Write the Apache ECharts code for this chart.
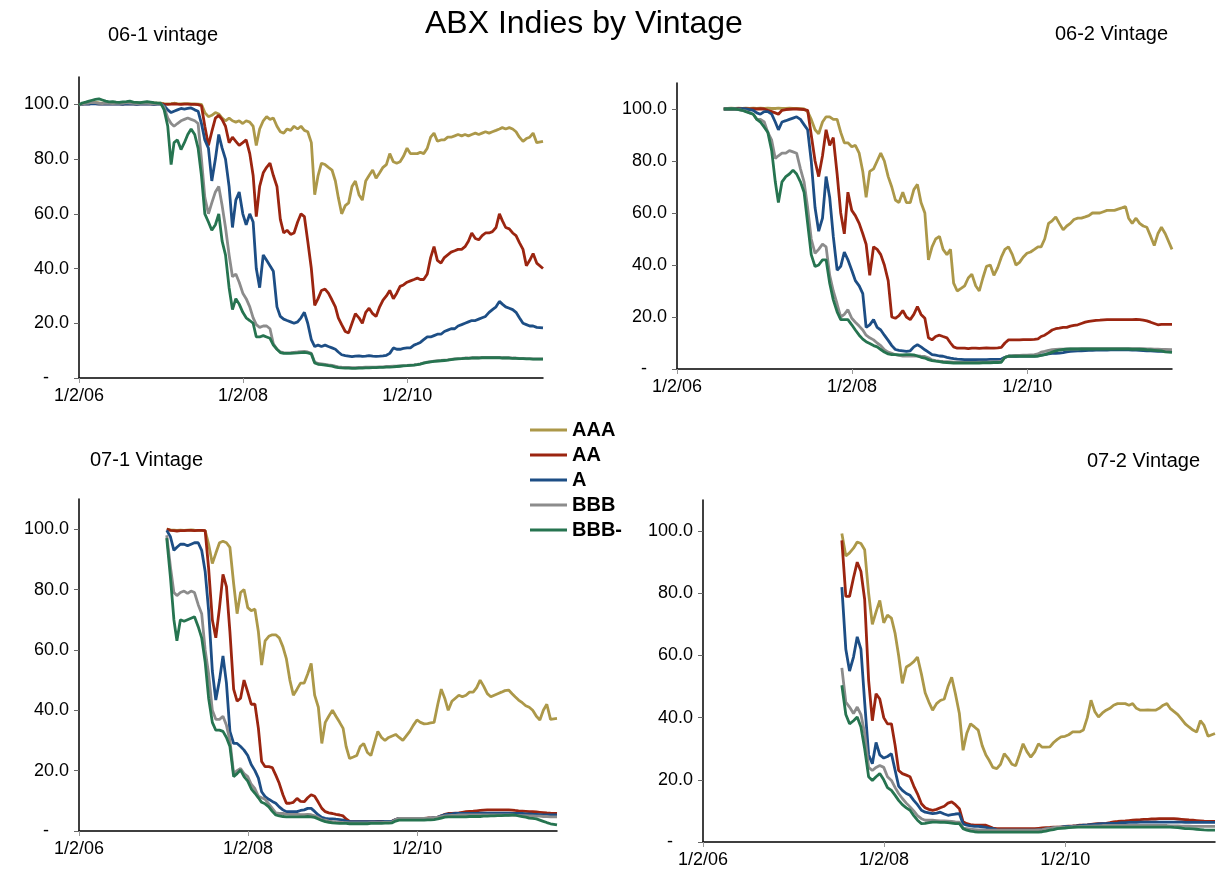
<!DOCTYPE html>
<html>
<head>
<meta charset="utf-8">
<title>ABX Indies by Vintage</title>
<script src="https://cdn.jsdelivr.net/npm/echarts@6.0.0/dist/echarts.min.js"></script>
<style>
  html, body { margin: 0; padding: 0; background: #fff; }
  #main { width: 1222px; height: 875px; }
</style>
</head>
<body>
<div id="main"></div>
<script>
// half-month observation dates shared by every panel
var dates = [
  '2006-01-02','2006-01-16','2006-02-01','2006-02-16','2006-03-01','2006-03-16','2006-04-01','2006-04-16','2006-05-01','2006-05-16','2006-06-01','2006-06-16',
  '2006-07-01','2006-07-16','2006-08-01','2006-08-16','2006-09-01','2006-09-16','2006-10-01','2006-10-16','2006-11-01','2006-11-16','2006-12-01','2006-12-16',
  '2007-01-01','2007-01-16','2007-02-01','2007-02-16','2007-03-01','2007-03-16','2007-04-01','2007-04-16','2007-05-01','2007-05-16','2007-06-01','2007-06-16',
  '2007-07-01','2007-07-16','2007-08-01','2007-08-16','2007-09-01','2007-09-16','2007-10-01','2007-10-16','2007-11-01','2007-11-16','2007-12-01','2007-12-16',
  '2008-01-01','2008-01-16','2008-02-01','2008-02-16','2008-03-01','2008-03-16','2008-04-01','2008-04-16','2008-05-01','2008-05-16','2008-06-01','2008-06-16',
  '2008-07-01','2008-07-16','2008-08-01','2008-08-16','2008-09-01','2008-09-16','2008-10-01','2008-10-16','2008-11-01','2008-11-16','2008-12-01','2008-12-16',
  '2009-01-01','2009-01-16','2009-02-01','2009-02-16','2009-03-01','2009-03-16','2009-04-01','2009-04-16','2009-05-01','2009-05-16','2009-06-01','2009-06-16',
  '2009-07-01','2009-07-16','2009-08-01','2009-08-16','2009-09-01','2009-09-16','2009-10-01','2009-10-16','2009-11-01','2009-11-16','2009-12-01','2009-12-16',
  '2010-01-01','2010-01-16','2010-02-01','2010-02-16','2010-03-01','2010-03-16','2010-04-01','2010-04-16','2010-05-01','2010-05-16','2010-06-01','2010-06-16',
  '2010-07-01','2010-07-16','2010-08-01','2010-08-16','2010-09-01','2010-09-16','2010-10-01','2010-10-16','2010-11-01','2010-11-16','2010-12-01','2010-12-16',
  '2011-01-01','2011-01-16','2011-02-01','2011-02-16','2011-03-01','2011-03-16','2011-04-01','2011-04-16','2011-05-01','2011-05-16','2011-06-01','2011-06-16',
  '2011-07-01','2011-07-16','2011-08-01','2011-08-29'
];

var ratings  = ['AAA', 'AA', 'A', 'BBB', 'BBB-'];
var vintages = ['06-1 vintage', '06-2 Vintage', '07-1 Vintage', '07-2 Vintage'];
var xTickDates = ['2006-01-02', '2008-01-02', '2010-01-02'];
var yTicks = [0, 20, 40, 60, 80, 100];

// ---- 06-1 ----
var v061_AAA = [
  99.8,100.2,100.5,100.6,100.8,100.7,100.5,100.4,100.6,100.5,100.4,100.5,100.6,100.5,100.7,100.6,100.5,100.4,100.5,100.6,100.5,100.4,100.5,100.4,
  100.4,100.3,100.2,100.3,100.4,100.3,100.2,100.3,100.3,100.2,100.2,100.1,100,97,95.5,96,97,96.5,95,94,95,94,93.5,94,
  93,94,93.5,92,85,91,94,95.5,94.5,95,92,90,89.5,91,90.5,92,91,92,90.5,90,86,67,74,78.5,
  78,77,76,72,66,60,63,64,70,72,67,65,72,74,76,73,75,77,78,82,79,78.5,79,81,
  84,82,82,82,82.5,82,84,88,89.5,86.5,87,87,88,88,88.5,89,88.5,89,88.5,89,89.5,89,89.5,90,
  89.5,90,90.5,91,91.5,91,91.5,91,90,88,86.5,87.5,88,89.5,86,86.5
];
var v061_AA = [
  99.8,100.1,100.3,100.2,100.4,100.3,100.2,100.2,100.3,100.2,100.2,100.3,100.2,100.1,100.3,100.2,100.2,100.1,100.2,100.3,100.2,100.2,100.1,100.2,
  100.2,100.1,100,100.1,100.2,100.1,100,100.1,100.1,100,100,99.9,99.5,92,85,90,95,96,94.4,92,86,88,86.5,85,
  86,87,82,74,59,70,75,77,78.5,74,70,58,53,54,52.5,53,57,60,59,50,40,26.5,29,32,
  32.5,31,28.5,26,22,19.5,17,16.5,20,23.5,22,20,24,25.5,23.5,22.5,26,28.5,30,32,29,31,33.5,34,
  35,35.5,36,36.5,36,36,38,44,48,43,42,44,45,46,46.5,47,47,48,50,53,51,50.5,52,53,
  53,53.5,55,60,57.5,55,54.5,53,52,49.5,47,41,43,45.5,42,40
];
var v061_A = [
  99.8,100,100.2,100.1,100.3,100.2,100.1,100.1,100.2,100.1,100.1,100.2,100.1,100,100.2,100.1,100.1,100,100.1,100.2,100.1,100.1,100,100.1,
  100.1,99.5,98,97,97.5,98,98.5,98.3,98.5,98.7,98,97.5,93,87,84,72,80,89,84,80,70,55,65,68,
  60,56,60,57,40,33,45,43,41,39,26,22.5,21.5,21,20.5,20,20.5,22,24,20,14,11.5,12,11.5,
  12,11.5,11,10.5,9.5,8.5,8.2,8,7.8,8,8.1,7.9,8,8.2,8,7.9,8,8.1,8.3,9,11,10.5,10.5,10.8,
  11,11,12,12.5,13,14,15,15,15.5,16,16,17,17.5,18,18,19,19.5,20,20.5,21,21,21.5,22,22.5,
  24,25,26,28,27,26,25.5,25,24,22,20,19.5,19,19,18.5,18.3
];
var v061_BBB = [
  99.8,100.1,100.4,100.5,100.7,100.6,100.4,100.3,100.5,100.4,100.3,100.4,100.5,100.4,100.6,100.5,100.4,100.3,100.4,100.5,100.4,100.3,100.4,100.3,
  100.2,99,95,93,92,93,94,94.5,95,94.5,94,93,80,66,60,64,68,70,63,55,45,37,38,35,
  31,29,26,22,19.5,18.5,19,19,18,12.5,10.5,9.5,9.3,9.2,9.3,9.4,9.5,9.6,9.7,9.5,9,5.8,5.3,5.2,
  5,4.8,4.6,4.3,4.1,4,3.9,3.9,3.8,3.8,3.9,3.9,4,4,4,4,4.1,4.1,4.2,4.2,4.3,4.3,4.4,4.5,
  4.6,4.7,4.8,5,5.2,5.5,5.8,6,6.2,6.3,6.4,6.5,6.6,6.8,7,7.1,7.2,7.3,7.3,7.4,7.4,7.4,7.5,7.5,
  7.5,7.5,7.5,7.5,7.4,7.4,7.4,7.3,7.3,7.2,7.2,7.1,7.1,7,7,7
];
var v061_BBBm = [
  99.8,100.5,100.8,101.2,101.5,101.8,102,101.6,101.2,100.9,101,100.8,100.7,100.9,101,101.2,100.8,100.7,100.6,100.8,101,100.8,100.6,100.5,
  100.4,98,92,78,86,87,83.5,86,89,91,89,84,74,60,57,54,56,60,50,45,33,25,29,27,
  24,22,21,20,15,15,15.5,15,14.5,12,10.5,9.3,9,9,9,9.1,9.2,9.3,9.4,9.2,8.8,5.5,5,4.9,
  4.7,4.5,4.3,4,3.8,3.7,3.6,3.6,3.5,3.5,3.6,3.6,3.7,3.7,3.8,3.8,3.9,3.9,4,4,4.1,4.2,4.3,4.4,
  4.5,4.6,4.7,4.9,5.1,5.4,5.7,5.9,6.1,6.2,6.3,6.4,6.5,6.7,6.9,7,7.1,7.2,7.2,7.3,7.3,7.3,7.4,7.4,
  7.4,7.4,7.4,7.4,7.3,7.3,7.3,7.2,7.2,7.1,7.1,7,7,6.9,6.9,6.9
];

// ---- 06-2 ----
var v062_AAA = [
  null,null,null,null,null,null,null,null,null,null,null,null,null,100,100.2,100.3,100.2,100.3,100.2,100.3,100.2,100.3,100.2,100.3,
  100.2,100.3,100.2,100.2,100.3,100.2,100.2,100.3,100.2,100.2,100.1,100,99,96,92,90.5,95,97,97,96,96,91,87,87,
  85.5,86,83,76,66,76,77,80,83,80,74,70,65,64,68,64,64,69,71,64,60,42,47,50,
  51,46,44,46,33,30,31,32,35,36.5,32,30,35,39.5,40,36,39,43,46,47,44,40,41,43,
  44.5,45,46,47,47,50,56,57,58.5,56,53.5,55,56,57.5,58,58,58.5,59,60,60,60,60.5,61,61,
  61,61.5,62,62.5,58,56,58,56,55,54.5,51,47.5,52,54.5,52,46
];
var v062_AA = [
  null,null,null,null,null,null,null,null,null,null,null,null,null,100,100,100.1,100,100.1,100,100.1,100,100.1,100,100.1,
  100,99.5,99,98.5,98,99.5,99.8,99.9,100,100,99.9,99.8,99.5,90,80,74,82,92,86,89,75,60,52,68,
  61,59,56,52,48,36,47,46,44,40,34,20,19.5,20.5,22.5,20,19,21,24,21,19.5,12,11.2,12.5,
  13,12.5,12,10,8.5,8,8,8,7.8,8,8,7.9,8,8.1,8,8,8.1,8.3,10,11.2,11.2,11.2,11.2,11.3,
  11.3,11.3,11.4,11.6,12.5,13,14,15,15.5,15.7,16,16,16.5,16.8,17,17.5,18,18.3,18.5,18.7,18.8,18.9,19,19,
  19,19,19,19,19,19,19.1,19,18.8,18.5,18,17.5,17,17.2,17.2,17.2
];
var v062_A = [
  null,null,null,null,null,null,null,null,null,null,null,null,null,100,100,100.1,100,100,100.1,100,99.8,99.5,98.5,98,
  99,99,98,95,92,95,95.5,96,96.5,97,96,94,92,80,62,53,58,74,66,51,38,39.5,45,42,
  38,34,32,29,16,17,19,16,15,13,11,9,7.5,7.2,7,6.8,7,8.5,9.3,8.5,7.4,6.5,5.5,5.3,
  5,4.9,4.5,4.2,4,3.8,3.7,3.6,3.6,3.6,3.6,3.6,3.6,3.6,3.7,3.7,3.7,3.8,4.5,4.9,4.9,4.9,5,5,
  5,5,5,5.1,5.3,5.5,5.8,6,6,6.1,6.3,6.6,6.8,6.9,7,7,7.1,7.2,7.2,7.3,7.3,7.3,7.3,7.4,
  7.4,7.4,7.4,7.4,7.4,7.3,7.3,7.2,7.1,7,7,6.9,6.8,6.8,6.8,6.8
];
var v062_BBB = [
  null,null,null,null,null,null,null,null,null,null,null,null,null,100,100,100.1,100,99.8,99.5,99.2,98.5,98,96,96,
  95,91,88,81,82,83,83,84,83.5,83,77,72,62,50,44.5,46,48,47,36,30,25,20,21,22.8,
  19.5,18,16.5,15,13,12,11.2,10,9,7.4,6.5,6,5.5,5.2,5,5,5,5,5,4.9,4.8,4.3,3.5,3.2,
  3,2.9,2.8,2.7,2.6,2.6,2.5,2.5,2.5,2.5,2.5,2.6,2.6,2.6,2.7,2.7,2.8,2.9,4.5,5,5.1,5.2,5.2,5.3,
  5.3,5.4,5.5,5.8,6.5,6.8,7.2,7.4,7.5,7.6,7.6,7.7,7.7,7.7,7.7,7.8,7.8,7.8,7.8,7.8,7.8,7.8,7.8,7.8,
  7.8,7.8,7.8,7.8,7.8,7.8,7.8,7.8,7.8,7.7,7.7,7.6,7.6,7.5,7.5,7.4
];
var v062_BBBm = [
  null,null,null,null,null,null,null,null,null,null,null,null,null,100,100,100.1,100,99.8,99.5,99,98.5,98,96,95,
  93,91,84,72,64,72,74,75,76.5,75,72,68,56,44,39.4,40,42,42,33,26.6,22,19,19,19,
  17,15,13,11.5,10.5,9.8,9,8.5,7.5,6.5,5.8,5.5,5.5,5.4,5.4,5.5,5.5,5.4,5,4.5,4.2,3.6,3.2,3,
  2.8,2.6,2.5,2.4,2.3,2.3,2.3,2.3,2.3,2.3,2.3,2.3,2.4,2.4,2.4,2.5,2.5,2.6,4.5,4.9,4.9,4.9,4.9,4.9,
  4.9,4.9,4.9,5,5.2,5.5,6,6.5,7,7.3,7.5,7.6,7.7,7.7,7.7,7.7,7.7,7.7,7.7,7.7,7.7,7.7,7.7,7.7,
  7.7,7.7,7.7,7.7,7.7,7.6,7.6,7.6,7.5,7.4,7.3,7.2,7.1,7,6.6,6.4
];

// ---- 07-1 ----
var v071_AAA = [
  null,null,null,null,null,null,null,null,null,null,null,null,null,null,null,null,null,null,null,null,null,null,null,null,
  null,100,99.8,99.7,99.6,99.7,99.6,99.7,99.8,99.7,99.6,99.6,99.5,95,88.6,92,95.5,96,95.5,94,82,72,79,80,
  74,73,73.5,66,55,63,64.5,65,65,64,61,57,50,45,47,49,49,52,55.5,45,41,29,36,38,
  40,38,36,34,28,24,24.5,25,28,29,26,25,29,33,31,30,31,31.5,32,31,30,31.5,33,35,
  36.8,36,35.5,35.6,35.8,36,42,47,44,40,43,44,45,44.5,45,46,46,47.5,50,48,45.5,44.5,45,45.5,
  46,46.5,46.7,45.5,44.5,43.4,42.5,41.5,41,40,38,36.8,40,42,37,37.3
];
var v071_AA = [
  null,null,null,null,null,null,null,null,null,null,null,null,null,null,null,null,null,null,null,null,null,null,null,null,
  null,100,99.6,99.5,99.4,99.5,99.5,99.6,99.6,99.5,99.6,99.6,99.5,87,70,64,74,85,81,66,47,43,44,50,
  46,42,42,34,23,21.3,21.3,21,18.5,15.8,12,9.2,9.2,9.5,10.8,9.8,9.7,11,12,11.5,9.5,7.5,6.4,6,
  5.8,5.5,5.3,5,4,3.2,3.1,3.1,3.1,3.1,3.1,3.1,3.1,3.2,3.2,3.2,3.2,3.3,3.8,4.2,4.2,4.2,4.2,4.2,
  4.2,4.2,4.2,4.3,4.3,4.4,4.6,5,5.5,5.8,5.8,5.9,6,6.2,6.4,6.5,6.6,6.7,6.8,6.9,7,7,7,7,
  7,7,7,6.9,6.8,6.7,6.6,6.5,6.4,6.4,6.3,6.2,6.1,6,5.9,5.8
];
var v071_A = [
  null,null,null,null,null,null,null,null,null,null,null,null,null,null,null,null,null,null,null,null,null,null,null,null,
  null,99.6,97.5,93,94,95,95,94.5,95,95.5,95.5,93,86,73,53,43.4,50,58,49,33,29,29,28,26.8,
  25,22,20,17.5,13,11.4,10.5,9.8,9.2,8,7,6.4,6.4,6.4,6.4,6.8,7,7.5,7.5,6.5,5.3,4.5,4.2,4,
  4,3.9,3.8,3.6,3.3,3.1,3.1,3.1,3.1,3.1,3.1,3.1,3.1,3.1,3.1,3.2,3.2,3.2,3.8,4.2,4.2,4.2,4.2,4.2,
  4.2,4.2,4.2,4.2,4.3,4.4,4.6,5,5.4,5.6,5.7,5.8,5.8,5.8,5.8,5.8,5.8,5.8,5.9,5.9,5.9,5.9,5.9,5.9,
  5.9,5.9,5.9,5.8,5.8,5.8,5.8,5.7,5.7,5.6,5.5,5.4,5.3,5.3,5.3,5.3
];
var v071_BBB = [
  null,null,null,null,null,null,null,null,null,null,null,null,null,null,null,null,null,null,null,null,null,null,null,null,
  null,98,87.5,79,78,79,79.5,78.7,79.5,79,75,72,60,52,40,37,37,38,35,30,19,20,20.7,19,
  18,15.5,14,11.5,11,10.5,9,7.5,6,5.8,5.8,5.6,5.5,5.5,5.5,5.4,5.4,5.5,5.4,5,4.5,3.8,3.6,3.3,
  3.1,3,2.9,2.8,2.8,2.7,2.7,2.7,2.7,2.7,2.7,2.8,2.8,2.8,2.8,2.9,2.9,3,3.8,4.2,4.2,4.2,4.2,4.2,
  4.2,4.2,4.2,4.3,4.3,4.4,4.6,4.8,5,5.1,5.2,5.2,5.3,5.3,5.3,5.3,5.3,5.3,5.3,5.3,5.3,5.3,5.3,5.3,
  5.3,5.3,5.3,5.3,5.2,5.2,5.1,5.1,5,5,4.9,4.9,4.8,4.8,4.7,4.7
];
var v071_BBBm = [
  null,null,null,null,null,null,null,null,null,null,null,null,null,null,null,null,null,null,null,null,null,null,null,null,
  null,97,84,70,63,70,69.5,70,70.5,71,67.7,64,56,44,36,33.4,33.4,33,31,28,18,19,20.2,18,
  16.5,14,12.5,11,9.5,9,8,6.5,5.3,5,4.8,4.7,4.7,4.7,4.7,4.7,4.7,4.8,4.7,4.5,4,3.5,3.1,2.9,
  2.7,2.6,2.5,2.5,2.5,2.4,2.4,2.4,2.4,2.4,2.4,2.5,2.5,2.5,2.5,2.6,2.6,2.7,3.3,3.6,3.6,3.6,3.6,3.6,
  3.6,3.6,3.6,3.7,3.7,3.8,4,4.3,4.6,4.7,4.7,4.7,4.7,4.7,4.7,4.8,4.8,4.8,4.8,4.9,4.9,5,5,5.1,
  5.1,5.2,5.2,5.3,5.3,5,4.8,4.6,4.3,4.2,4,3.6,3.2,2.8,2.4,2
];

// ---- 07-2 ----
var v072_AAA = [
  null,null,null,null,null,null,null,null,null,null,null,null,null,null,null,null,null,null,null,null,null,null,null,null,
  null,null,null,null,null,null,null,null,null,null,null,null,null,99.2,92,93,94.5,96.5,96,94,80,70,74,77.7,
  70.5,73,72,67,60,51,56.3,57,58,59.5,54,48,45,42.4,44.5,45.5,46,50,53,47.7,41.3,29.5,35,38,
  37,36,31,28,26.3,24,23.6,25,28.4,27,25,24.5,28,31.6,29,27.3,29,31.6,30.5,30.5,30.6,32,33,33.8,
  34,34.5,35.4,35.4,35.4,36,40,45.6,42,40.2,41.5,42.4,43,44,44.5,44.5,44.5,44,44.5,43,42.4,42.4,42.5,42.4,
  42.4,43,44,44.5,43,42,41,39.5,38,37,36,35.4,39,37.5,34,34.9
];
var v072_AA = [
  null,null,null,null,null,null,null,null,null,null,null,null,null,null,null,null,null,null,null,null,null,null,null,null,
  null,null,null,null,null,null,null,null,null,null,null,null,null,97,79,79,85,90,87,78,52,39,47.7,46,
  40,38,38,31,23,22,21.5,21,18,15.5,12.3,11,10.5,10.2,10.5,11,11.5,12.5,12.9,12,10.7,6.5,5.9,5.6,
  5.4,5.4,5.4,5.4,5,4.5,4.3,4.3,4.3,4.3,4.3,4.3,4.3,4.3,4.3,4.3,4.3,4.4,4.5,4.6,4.7,4.8,4.8,4.8,
  5,5.1,5.2,5.3,5.4,5.4,5.5,5.7,5.8,5.9,5.9,6,6.2,6.5,6.6,6.7,6.8,6.9,7,7.1,7.2,7.3,7.3,7.4,
  7.4,7.5,7.5,7.5,7.5,7.5,7.4,7.3,7.2,7.1,7,6.9,6.8,6.7,6.6,6.6
];
var v072_A = [
  null,null,null,null,null,null,null,null,null,null,null,null,null,null,null,null,null,null,null,null,null,null,null,null,
  null,null,null,null,null,null,null,null,null,null,null,null,null,82,62,55,59.5,66,62,45,28,25.2,32,28,
  27,27.5,28.4,23,18,16.6,15.6,15,13.4,12,10.2,9.6,9.4,9.1,9.3,9.6,9,8.6,8.8,9,9.1,5.8,5.4,5.2,
  5,5,4.9,4.7,4.5,4.3,3.9,3.8,3.8,3.8,3.8,3.8,3.8,3.8,3.8,3.8,3.8,3.9,4,4.2,4.4,4.5,4.6,4.8,
  5,5,5.1,5.2,5.3,5.4,5.5,5.6,5.7,5.8,5.9,5.9,6,6,6.1,6.2,6.2,6.3,6.3,6.3,6.4,6.4,6.4,6.4,
  6.4,6.4,6.4,6.4,6.4,6.4,6.4,6.4,6.3,6.3,6.3,6.3,6.3,6.3,6.3,6.3
];
var v072_BBB = [
  null,null,null,null,null,null,null,null,null,null,null,null,null,null,null,null,null,null,null,null,null,null,null,null,
  null,null,null,null,null,null,null,null,null,null,null,null,null,56,45,43.4,41.3,43.4,41,35,24,23,24,24.6,
  24,21,19.8,17.5,15.6,14,12.5,11.3,10,8.5,7.5,7,7,7,6.9,6.8,6.8,6.7,6.6,6.5,6.4,4.5,4.3,4.1,
  4,3.9,3.9,3.8,3.8,3.8,3.8,3.8,3.8,3.8,3.8,3.8,3.8,3.8,3.8,3.8,3.8,3.9,4,4.2,4.4,4.6,4.8,4.8,
  4.8,4.8,4.9,4.9,5,5,5.1,5.1,5.2,5.2,5.3,5.3,5.3,5.3,5.3,5.3,5.3,5.3,5.3,5.3,5.3,5.3,5.3,5.3,
  5.3,5.3,5.3,5.3,5.2,5.2,5.2,5.1,5.1,5.1,5,5,5,5,5,5
];
var v072_BBBm = [
  null,null,null,null,null,null,null,null,null,null,null,null,null,null,null,null,null,null,null,null,null,null,null,null,
  null,null,null,null,null,null,null,null,null,null,null,null,null,50.4,41,38,39,40.2,37,30,21,19.8,21,22,
  20,17.5,16.6,15,13.4,12,11,10.2,8.5,7,5.9,6,6.2,6.4,6.4,6.3,6.3,6.2,6.1,5.9,5.9,4.3,3.8,3.5,
  3.3,3.2,3.2,3.2,3.2,3.2,3.2,3.2,3.2,3.2,3.2,3.2,3.2,3.2,3.2,3.2,3.2,3.2,3.3,3.5,3.8,4,4.3,4.4,
  4.5,4.6,4.7,4.8,4.8,4.8,4.8,4.8,4.8,4.8,4.8,4.8,4.8,4.8,4.8,4.8,4.8,4.8,4.8,4.8,4.8,4.8,4.8,4.8,
  4.8,4.8,4.8,4.8,4.8,4.7,4.6,4.5,4.3,4.3,4.2,4.1,4,3.9,3.8,3.8
];

var panels = [
  [v061_AAA, v061_AA, v061_A, v061_BBB, v061_BBBm],
  [v062_AAA, v062_AA, v062_A, v062_BBB, v062_BBBm],
  [v071_AAA, v071_AA, v071_A, v071_BBB, v071_BBBm],
  [v072_AAA, v072_AA, v072_A, v072_BBB, v072_BBBm]
];

// layout / style
var colors = ['#AC9849', '#9B2510', '#1D4E85', '#8C8C8C', '#267450'];
var FONT = '"Liberation Sans", Arial, sans-serif';
var grids = [
  { left: 79,  top: 77,  width: 464, height: 301 },
  { left: 677, top: 83,  width: 495, height: 286 },
  { left: 79,  top: 499, width: 478, height: 332 },
  { left: 703, top: 500, width: 512, height: 342 }
];
var titlePos = [
  { left: 103, top: 20 },
  { right: 49, top: 19 },
  { left: 85,  top: 445 },
  { right: 17, top: 446 }
];

function ts(s) {
  var p = s.split('-');
  return Date.UTC(+p[0], +p[1] - 1, +p[2]);
}
function toPairs(vals) {
  var out = [];
  for (var i = 0; i < dates.length; i++) {
    if (vals[i] != null) out.push([ts(dates[i]), vals[i]]);
  }
  return out;
}
function fmtDate(v) {
  var d = new Date(v);
  return (d.getUTCMonth() + 1) + '/' + d.getUTCDate() + '/' + String(d.getUTCFullYear()).slice(2);
}

var xTicks = xTickDates.map(ts);
var xMin = ts(dates[0]), xMax = ts(dates[dates.length - 1]);

var titles = [{
  text: 'ABX Indies by Vintage', left: 420, top: 3,
  textStyle: { fontFamily: FONT, fontSize: 32, fontWeight: 'normal', color: '#000' }
}];
var xAxes = [], yAxes = [], series = [];

grids.forEach(function (g, p) {
  titles.push(Object.assign({
    text: vintages[p],
    textStyle: { fontFamily: FONT, fontSize: 20, fontWeight: 'normal', color: '#000' }
  }, titlePos[p]));

  xAxes.push({
    type: 'value', gridIndex: p, min: xMin, max: xMax,
    axisLine: { onZero: false, lineStyle: { color: '#000', width: 1.5 } },
    axisTick: { show: true, length: 5, customValues: xTicks, lineStyle: { color: '#999' } },
    axisLabel: { customValues: xTicks, formatter: fmtDate, margin: 9,
                 fontFamily: FONT, fontSize: 18, color: '#000' },
    splitLine: { show: false }
  });
  yAxes.push({
    type: 'value', gridIndex: p, min: 0, max: 110,
    axisLine: { show: true, lineStyle: { color: '#000', width: 1.5 } },
    axisTick: { show: true, length: 5, customValues: yTicks, lineStyle: { color: '#666' } },
    axisLabel: {
      customValues: yTicks, margin: 10, fontFamily: FONT, fontSize: 18, color: '#000',
      formatter: function (v) { return v === 0 ? '-    ' : v.toFixed(1); }
    },
    splitLine: { show: false }
  });

  panels[p].forEach(function (vals, r) {
    series.push({
      type: 'line', name: ratings[r],
      xAxisIndex: p, yAxisIndex: p,
      data: toPairs(vals),
      showSymbol: false, symbol: 'none',
      lineStyle: { width: 2.8, color: colors[r] },
      itemStyle: { color: colors[r] },
      z: 2 + r
    });
  });
});

var chart = echarts.init(document.getElementById('main'));
chart.setOption({
  animation: false,
  color: colors,
  title: titles,
  legend: {
    data: ratings, orient: 'vertical', left: 525, top: 415,
    icon: 'rect', itemWidth: 37, itemHeight: 3, itemGap: 5,
    textStyle: { fontFamily: FONT, fontSize: 20, fontWeight: 'bold', color: '#000' }
  },
  grid: grids.map(function (g) {
    return Object.assign({ containLabel: false, outerBoundsMode: 'none' }, g);
  }),
  xAxis: xAxes,
  yAxis: yAxes,
  series: series
});
</script>
</body>
</html>
